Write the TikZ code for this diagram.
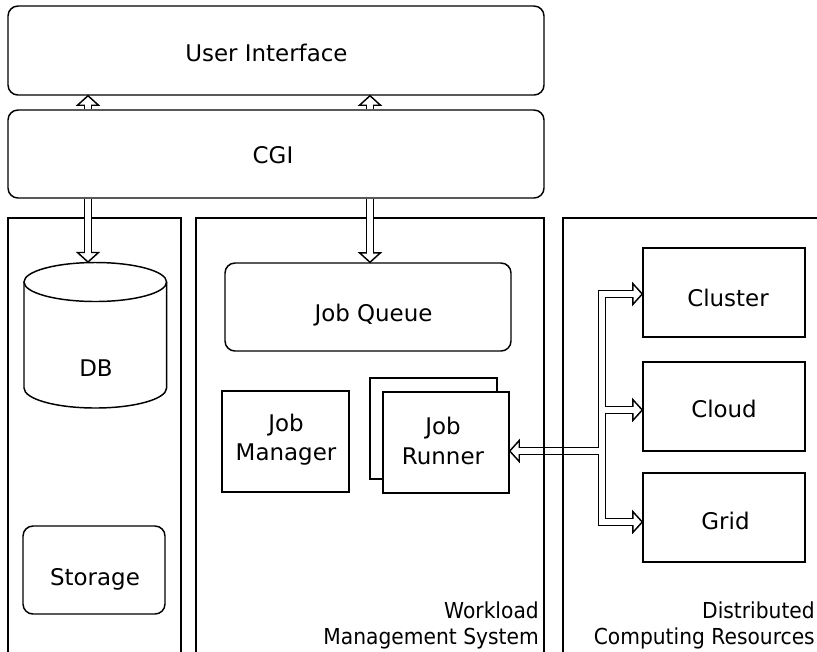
\documentclass[tikz,border=0pt]{standalone}
\usepackage{fontspec}
\setmainfont{DejaVu Sans}
\newfontfamily\condfont[FakeStretch=0.92]{DejaVu Sans}
\usetikzlibrary{fit,calc}
\tikzset{
  headr/.pic={\draw[ahead] (0,0) -- (-9.5,-10.5) -- (-9.5,10.5) -- cycle;},
}
\begin{document}
\begin{tikzpicture}[x=0.75pt,y=-0.75pt,
  lw/.style={line width=1.1pt},
  box/.style={draw, line width=1.1pt, inner sep=0pt, outer sep=0.55pt, fit={#1}},
  rbox/.style={box={#1}, rounded corners=7.5pt},
  lbl/.style={font=\fontsize{17.2}{22}\selectfont, align=center, inner sep=0pt, anchor=base},
  small/.style={font=\condfont\fontsize{16.5}{19.3}\selectfont, align=right, inner sep=0pt, anchor=base east},
  shaftout/.style={line width=6pt, black, line join=miter},
  shaftin/.style={line width=3.8pt, white, line join=miter},
  ahead/.style={draw=black, fill=white, line width=1.1pt, line join=miter},
]
\useasboundingbox (0,0) rectangle (817,651);

% ---- boxes
\node[rbox={(8,6) (544,95)}] (ui) {};
\node[lbl] (uil) at (266.5,61) {User Interface};
\node[rbox={(8,110) (544,198)}] (cgi) {};
\node[lbl] (cgil) at (273,163.3) {CGI};
\node[rbox={(225,263) (511,351)}] (jq) {};
\node[lbl] (jql) at (373.5,321.7) {Job Queue};
\node[box={(222,391) (349,492)}] (jm) {};
\node[lbl] (jml) at (286,460.7) {Job\\Manager};
\node[box={(370,378) (497,479)}, fill=white] (jrb) {};
\node[box={(383,392) (509,493)}, fill=white] (jr) {};
\node[lbl] (jrl) at (443,464) {Job\\Runner};
\node[rbox={(23,526) (165,614)}] (st) {};
\node[lbl] (stl) at (95,585) {Storage};
\node[box={(643,248) (805,337)}] (cl) {};
\node[lbl] (cll) at (728,306) {Cluster};
\node[box={(643,362) (805,451)}] (co) {};
\node[lbl] (col) at (724,417.3) {Cloud};
\node[box={(643,473) (805,562)}] (gr) {};
\node[lbl] (grl) at (725.5,529) {Grid};

% ---- DB cylinder
\draw[lw] (24,282) -- (24,388) arc[start angle=180, end angle=0, x radius=71.3, y radius=20] -- (166.6,282);
\draw[lw] (95.3,282) ellipse[x radius=71.3, y radius=19.5];
\node[lbl] (dbl) at (96,376.7) {DB};
\coordinate (dbtop) at (88,262);

% ---- bus between Job Runner and resources
\coordinate (bx) at (602,0);
\coordinate (yj) at (0,451);
\coordinate (ycl) at (0,294);
\coordinate (yco) at (0,410);
\coordinate (ygr) at (0,522);
\draw[shaftout] ($(jr.east |- yj)+(9.5,0)$) -- (bx |- yj) -- (bx |- ycl) -- ($(cl.west |- ycl)+(-9.5,0)$);
\draw[shaftout] (bx |- yj) -- (bx |- ygr) -- ($(gr.west |- ygr)+(-9.5,0)$);
\draw[shaftout] (bx |- yco) -- ($(co.west |- yco)+(-9.5,0)$);
\pic[rotate=180] at (jr.east |- yj) {headr};
\pic at (cl.west |- ycl) {headr};
\pic at (co.west |- yco) {headr};
\pic at (gr.west |- ygr) {headr};
\draw[shaftin] ($(jr.east |- yj)+(8,0)$) -- (bx |- yj) -- (bx |- ycl) -- ($(cl.west |- ycl)+(-8,0)$);
\draw[shaftin] (bx |- yj) -- (bx |- ygr) -- ($(gr.west |- ygr)+(-8,0)$);
\draw[shaftin] (bx |- yco) -- ($(co.west |- yco)+(-8,0)$);

% ---- columns
\draw[lw] (8,660) -- (8,218) -- (181,218) -- (181,660);
\draw[lw] (196,660) -- (196,218) -- (544,218) -- (544,660);
\draw[lw] (563,660) -- (563,218) -- (825,218);

% ---- CGI arrows
\coordinate (xa) at (88,0);
\coordinate (xb) at (370,0);
\foreach \c in {xa,xb} {
  \draw[shaftout] (cgi.north -| \c) -- ($(ui.south -| \c)+(0,9.5)$);
  \pic[rotate=90] at (ui.south -| \c) {headr};
  \draw[shaftin] (cgi.north -| \c) -- ($(ui.south -| \c)+(0,8)$);
}
\draw[shaftout] (cgi.south -| xa) -- ($(dbtop)+(0,-9.5)$);
\pic[rotate=-90] at (dbtop) {headr};
\draw[shaftin] (cgi.south -| xa) -- ($(dbtop)+(0,-8)$);
\draw[shaftout] (cgi.south -| xb) -- ($(jq.north -| xb)+(0,-9.5)$);
\pic[rotate=-90] at (jq.north -| xb) {headr};
\draw[shaftin] (cgi.south -| xb) -- ($(jq.north -| xb)+(0,-8)$);

% ---- column labels
\node[small] (wms) at (539,644) {Workload\\Management System};
\node[small] (dcr) at (815,644) {Distributed\\Computing Resources};
\end{tikzpicture}
\end{document}
